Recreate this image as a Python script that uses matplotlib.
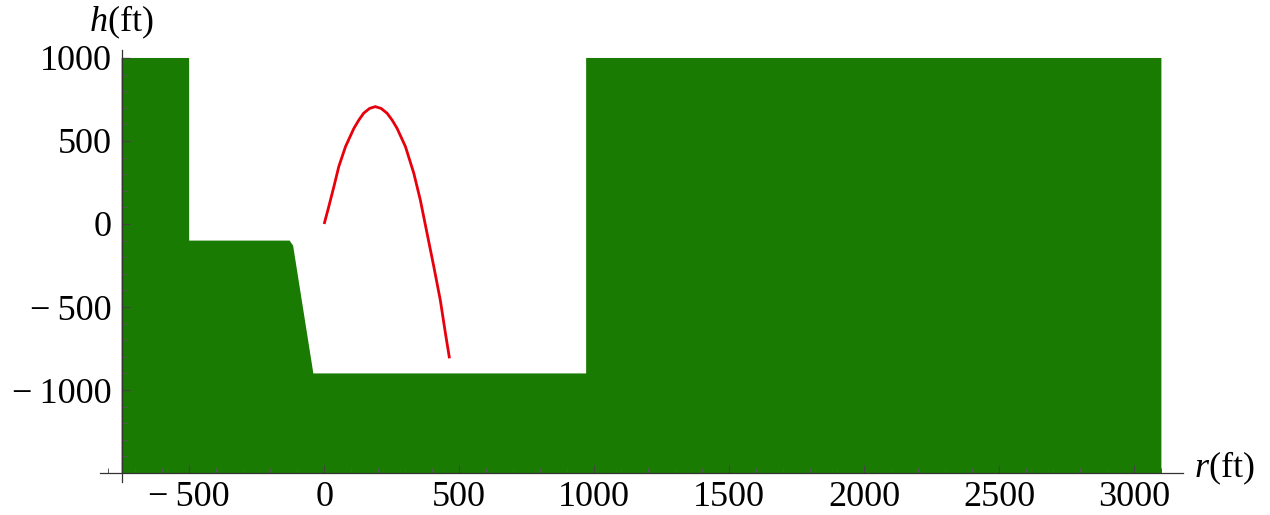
import matplotlib
matplotlib.use("Agg")
import matplotlib.pyplot as plt
from matplotlib.ticker import MultipleLocator

plt.rcParams['font.family'] = ['Liberation Serif', 'DejaVu Serif']
plt.rcParams['mathtext.fontset'] = 'custom'
plt.rcParams['mathtext.it'] = 'Liberation Serif:italic'
plt.rcParams['mathtext.rm'] = 'Liberation Serif'

# Terrain outline (r in ft, h in ft)
terrain_r = [-750, -750, -500, -500, -128, -115, -40, 970, 970, 3100, 3100]
terrain_h = [-1500, 1000, 1000, -100, -100, -130, -900, -900, 1000, 1000, -1500]

# Trajectory
traj_r = [0, 17, 36, 54, 79, 110, 128, 146, 168, 189, 211, 233, 252, 270, 301, 332, 356, 381, 406, 430, 449, 464]
traj_h = [0, 104, 225, 345, 466, 576, 625, 667, 696, 707, 696, 667, 625, 576, 466, 305, 145, -56, -257, -458, -658, -809]

x_ticks = [-500, 0, 500, 1000, 1500, 2000, 2500, 3000]
y_ticks = [-1000, -500, 0, 500, 1000]
x_labels = ['\u2212\u2009500', '0', '500', '1000', '1500', '2000', '2500', '3000']
y_labels = ['\u2212\u20091000', '\u2212\u2009500', '0', '500', '1000']

fig = plt.figure(figsize=(12.7, 5.15), dpi=100)
ax = fig.add_axes([100/1270, 33/515, 1083/1270, 432/515])

ax.fill(terrain_r, terrain_h, color='#1a7b02', lw=0, zorder=1)
ax.plot(traj_r, traj_h, color='#e8000b', lw=2.0, zorder=3,
        solid_capstyle='butt', solid_joinstyle='round')

ax.set_xlim(-830, 3180)
ax.set_ylim(-1554, 1048)

for s in ['top', 'right']:
    ax.spines[s].set_visible(False)
ax.spines['left'].set_position(('data', -750))
ax.spines['bottom'].set_position(('data', -1500))
for s in ['left', 'bottom']:
    ax.spines[s].set_color('#333333')
    ax.spines[s].set_linewidth(0.9)
    ax.spines[s].set_zorder(4)

ax.set_xticks(x_ticks)
ax.set_yticks(y_ticks)
ax.set_xticklabels(x_labels)
ax.set_yticklabels(y_labels)
ax.xaxis.set_minor_locator(MultipleLocator(100))
ax.yaxis.set_minor_locator(MultipleLocator(100))
ax.tick_params(which='major', direction='in', length=6, width=0.9, color='#444444',
               labelsize=26, pad=7)
ax.tick_params(which='minor', direction='in', length=3.5, width=0.7, color='#555555')
ax.tick_params(axis='x', which='major', pad=6)

ax.text(-750, 1215, r'$h$(ft)', fontsize=26, ha='center', va='center')
ax.text(3220, -1470, r'$r$(ft)', fontsize=26, ha='left', va='center')

fig.savefig('out.png', dpi=100)
